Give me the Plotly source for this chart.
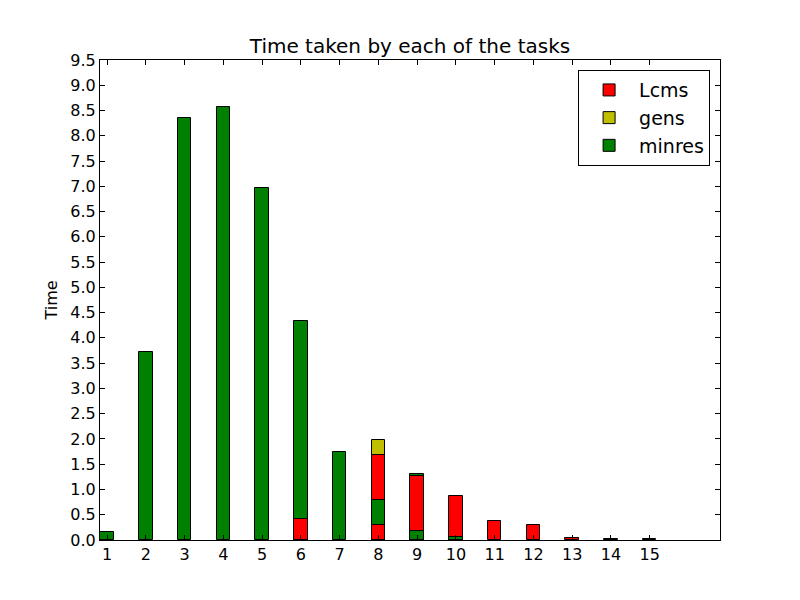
import plotly.graph_objects as go

tasks = list(range(1, 16))
minres = [0.15, 3.72, 8.36, 8.56, 6.96, 4.33, 1.75, 0.80, 1.30, 0.06, None, None, None, None, None]
minres_2 = [None, None, None, None, None, None, None, None, 0.18, None, None, None, None, None, None]
lcms = [None, None, None, None, None, 0.41, None, 1.69, 1.26, 0.88, 0.375, 0.30, 0.045, 0.01, 0.01]
lcms_2 = [None, None, None, None, None, None, None, 0.29, None, None, None, None, None, None, None]
gens = [None, None, None, None, None, None, None, 1.98, None, None, None, None, None, None, None]

series = [
    ("Lcms", "#ff0000", [lcms, lcms_2]),
    ("gens", "#bfbf00", [gens]),
    ("minres", "#008000", [minres, minres_2]),
]

# Collect bars per task, sorted tallest first (overlapping bars, drawn tall -> short)
entries = []
for name, color, arrs in series:
    for arr in arrs:
        for t, v in zip(tasks, arr):
            if v is not None:
                entries.append((t, v, name))
by_task = {}
for t, v, name in entries:
    by_task.setdefault(t, []).append((v, name))
layers = {}
for t, lst in by_task.items():
    lst.sort(key=lambda e: -e[0])
    for r, (v, name) in enumerate(lst):
        layers.setdefault((r, name), []).append((t, v))

colors = {name: color for name, color, _ in series}
rank_order = {"Lcms": 1, "gens": 2, "minres": 3}
fig = go.Figure()
shown = set()
for (r, name) in sorted(layers.keys(), key=lambda k: (k[0], rank_order[k[1]])):
    pts = layers[(r, name)]
    fig.add_trace(go.Bar(
        x=[p[0] for p in pts], y=[p[1] for p in pts], name=name,
        legendgroup=name, showlegend=name not in shown, legendrank=rank_order[name],
        width=0.35, marker=dict(color=colors[name], line=dict(color="black", width=1)),
    ))
    shown.add(name)
for name, color, _ in series:
    if name not in shown:
        fig.add_trace(go.Bar(x=[None], y=[None], name=name, legendrank=rank_order[name],
                             marker=dict(color=color, line=dict(color="black", width=1))))

yticks = [i * 0.5 for i in range(20)]
fig.update_layout(
    width=800, height=600, barmode="overlay",
    paper_bgcolor="white", plot_bgcolor="white",
    margin=dict(l=92, r=88, t=52, b=68),
    font=dict(family="DejaVu Sans", size=16, color="black"),
    title=dict(text="Time taken by each of the tasks", x=(410 - 8) / 800, xanchor="center",
               y=1 - 38 / 600, yanchor="middle", font=dict(size=20)),
    bargap=0,
    legend=dict(x=0.984, y=0.979, xanchor="right", yanchor="top", bordercolor="black",
                borderwidth=1, bgcolor="white", font=dict(size=19),
                tracegroupgap=0, itemwidth=50),
)
fig.update_xaxes(range=[0.815, 16.815], tickvals=tasks, ticktext=[str(t) for t in tasks],
                 ticks="inside", ticklen=5, tickcolor="black", showline=True, linecolor="black",
                 linewidth=1, mirror="ticks", showgrid=False, zeroline=False)
fig.update_yaxes(range=[0, 9.5], tickvals=yticks, ticktext=[f"{v:.1f}" for v in yticks],
                 ticks="inside", ticklen=5, tickcolor="black", showline=True, linecolor="black",
                 linewidth=1, mirror="ticks", showgrid=False, zeroline=False,
                 title=dict(text="Time", standoff=8, font=dict(size=16)))
fig.write_html("out.html")
